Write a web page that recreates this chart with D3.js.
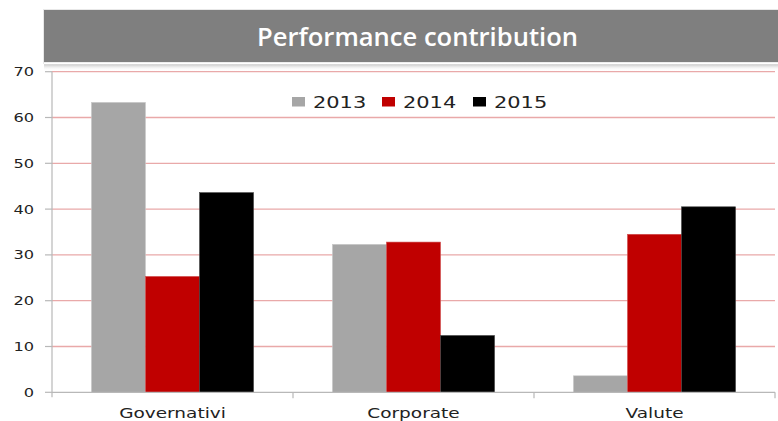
<!DOCTYPE html>
<html><head><meta charset="utf-8">
<script src="https://cdn.jsdelivr.net/npm/d3@7"></script>
<style>
html,body{margin:0;padding:0;background:#fff;}
svg{display:block;}
</style></head>
<body>
<svg id="chart" width="778" height="421"></svg>
<script>
const title = "Performance contribution";
const categories = ["Governativi", "Corporate", "Valute"];
const seriesNames = ["2013", "2014", "2015"];
const values2013 = [63.3, 32.3, 3.6];
const values2014 = [25.3, 32.8, 34.5];
const values2015 = [43.6, 12.4, 40.5];
const yTicks = [0, 10, 20, 30, 40, 50, 60, 70];
const colors = ["#a6a6a6", "#c00000", "#000000"];

const seriesValues = [values2013, values2014, values2015];
const W = 778, H = 421;
const m = {left: 52, right: 3, top: 71.7, bottom: 28.7};
const stretch = 1.35;
const font = "'DejaVu Sans', Verdana, sans-serif";

const svg = d3.select("#chart");
const defs = svg.append("defs");
const grad = defs.append("linearGradient").attr("id","shadow").attr("x1",0).attr("y1",0).attr("x2",0).attr("y2",1);
grad.append("stop").attr("offset","0%").attr("stop-color","#b0b0b0");
grad.append("stop").attr("offset","100%").attr("stop-color","#ffffff").attr("stop-opacity",0);

const x0 = d3.scaleBand().domain(categories).range([m.left, W - m.right]).padding(0);
const x1 = d3.scaleBand().domain(seriesNames).range([0, x0.bandwidth()]).paddingInner(0).paddingOuter(0.73);
const y = d3.scaleLinear().domain([0, 70]).range([H - m.bottom, m.top]);

// gridlines
svg.append("g").selectAll("line").data(yTicks.filter(t => t > 0)).join("line")
  .attr("x1", m.left).attr("x2", W - m.right)
  .attr("y1", d => y(d)).attr("y2", d => y(d))
  .attr("stroke", "#e9a9a9").attr("stroke-width", 1.3);

// bars
const rows = categories.map((c, i) => ({cat: c, vals: seriesNames.map((s, j) => ({s, v: seriesValues[j][i], j}))}));
svg.append("g").selectAll("g").data(rows).join("g")
  .attr("transform", d => `translate(${x0(d.cat)},0)`)
  .selectAll("rect").data(d => d.vals).join("rect")
  .attr("x", d => x1(d.s)).attr("width", x1.bandwidth())
  .attr("y", d => y(d.v)).attr("height", d => y(0) - y(d.v))
  .attr("fill", d => colors[d.j])
  .attr("stroke", d => d.j === 0 ? "#c8c8c8" : (d.j === 1 ? "#d05050" : "#444"))
  .attr("stroke-width", 0.6);

// axes
const axisColor = "#b8b8b8";
svg.append("line").attr("x1", m.left).attr("x2", m.left).attr("y1", y(70)).attr("y2", y(0) + 5)
  .attr("stroke", axisColor).attr("stroke-width", 1.2);
svg.append("line").attr("x1", m.left).attr("x2", W - m.right).attr("y1", y(0)).attr("y2", y(0))
  .attr("stroke", axisColor).attr("stroke-width", 1.2);
svg.append("g").selectAll("line").data(yTicks).join("line")
  .attr("x1", m.left - 7).attr("x2", m.left).attr("y1", d => y(d)).attr("y2", d => y(d))
  .attr("stroke", axisColor).attr("stroke-width", 1.2);
const bounds = categories.map(c => x0(c)).concat([x0(categories[categories.length-1]) + x0.bandwidth()]);
svg.append("g").selectAll("line").data(bounds.slice(1)).join("line")
  .attr("x1", d => d).attr("x2", d => d).attr("y1", y(0)).attr("y2", y(0) + 6)
  .attr("stroke", axisColor).attr("stroke-width", 1.2);

// y labels
svg.append("g").selectAll("text").data(yTicks).join("text")
  .attr("transform", d => `translate(34,${y(d) + 4.5}) scale(${stretch},1)`)
  .attr("text-anchor", "end").attr("font-family", font).attr("font-size", 12)
  .attr("fill", "#222").text(d => d);

// x labels
svg.append("g").selectAll("text").data(categories).join("text")
  .attr("transform", d => `translate(${x0(d) + x0.bandwidth()/2},${y(0) + 26}) scale(${stretch},1)`)
  .attr("text-anchor", "middle").attr("font-family", font).attr("font-size", 13.7)
  .attr("fill", "#222").text(d => d);

// legend
const legendX = [292, 382, 473];
const lg = svg.append("g").selectAll("g").data(seriesNames).join("g")
  .attr("transform", (d, i) => `translate(${legendX[i]},97)`);
lg.append("rect").attr("width", 13).attr("height", 9.5).attr("fill", (d, i) => colors[i]);
lg.append("text").attr("transform", `translate(21,10.5) scale(${stretch},1)`)
  .attr("font-family", font).attr("font-size", 15.5).attr("fill", "#222").text(d => d);

// title banner
svg.append("rect").attr("x", 44).attr("y", 63).attr("width", W - 44).attr("height", 8).attr("fill", "url(#shadow)");
svg.append("rect").attr("x", 43).attr("y", 9).attr("width", W - 43).attr("height", 55).attr("fill", "#e8e8e8");
svg.append("rect").attr("x", 44).attr("y", 10).attr("width", W - 44).attr("height", 52).attr("fill", "#7f7f7f");
svg.append("line").attr("x1", 44).attr("x2", W).attr("y1", 63.5).attr("y2", 63.5).attr("stroke", "#ffffff").attr("stroke-width", 1.5);
const tt = svg.append("text").attr("x", 257).attr("y", 46)
  .attr("font-family", "'Open Sans', sans-serif").attr("font-weight", 600).attr("font-size", 25)
  .attr("fill", "#ffffff").text(title);
tt.attr("textLength", 321).attr("lengthAdjust", "spacingAndGlyphs");
</script>
</body></html>
